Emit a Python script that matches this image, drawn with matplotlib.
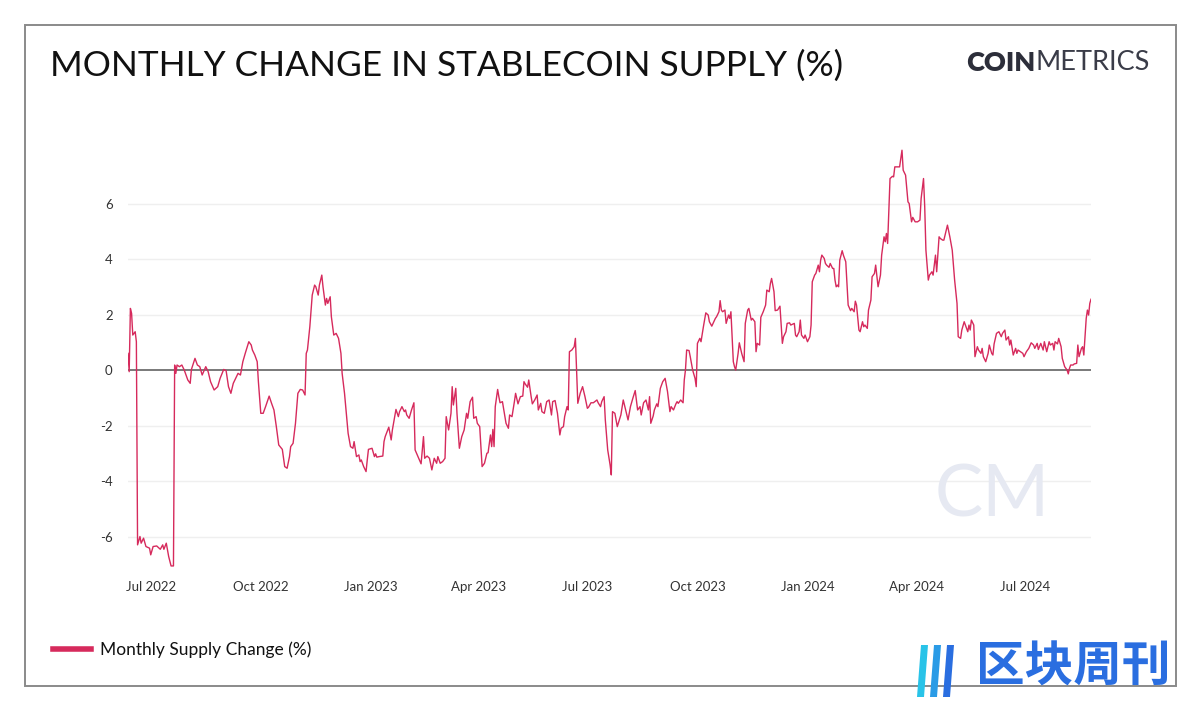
import matplotlib
matplotlib.use("Agg")
import matplotlib.pyplot as plt
from matplotlib.lines import Line2D
from matplotlib.patches import Rectangle, Polygon
import pandas as pd

# ---------------- data ----------------
dates_2022 = ["06-12","06-13","06-14","06-15","06-16","06-18","06-19","06-20","06-22","06-23","06-25","06-27","06-30",
              "07-01","07-03","07-06","07-09","07-11","07-12","07-14","07-16","07-18","07-20","07-21","07-22","07-23","07-25","07-27","07-29",
              "08-01","08-03","08-04","08-07","08-09","08-11","08-13","08-16","08-18","08-20","08-23","08-26","08-28","08-31",
              "09-02","09-04","09-06","09-08","09-10","09-12","09-14","09-16","09-18","09-21","09-23","09-24","09-26","09-28","09-29",
              "10-01","10-03","10-05","10-08","10-10","10-12","10-14","10-16","10-19","10-21","10-23","10-25","10-26","10-28","10-30",
              "11-01","11-03","11-05","11-07","11-08","11-09","11-11","11-13","11-15","11-16","11-18","11-19","11-21","11-22","11-24","11-25","11-26","11-28","11-29",
              "12-01","12-03","12-05","12-07","12-08","12-10","12-11","12-13","12-15","12-17","12-18","12-20","12-22","12-23","12-24","12-26","12-28","12-29","12-30"]
vals_2022 = [0.60,-0.06,2.22,2.04,1.26,1.38,1.02,-6.30,-6.00,-6.24,-6.06,-6.36,-6.42,
             -6.66,-6.36,-6.34,-6.46,-6.30,-6.46,-6.24,-6.72,-7.06,-7.06,0.18,-0.12,0.18,0.12,0.18,0.00,
             -0.36,-0.48,0.02,0.42,0.18,0.12,-0.18,0.12,-0.06,-0.42,-0.72,-0.60,-0.30,0.02,
             -0.02,-0.60,-0.84,-0.48,-0.30,-0.12,-0.18,0.30,0.60,1.02,0.90,0.72,0.54,0.30,-0.42,
             -1.56,-1.56,-1.32,-0.94,-1.20,-1.44,-2.04,-2.70,-2.86,-3.48,-3.54,-3.12,-2.76,-2.64,-1.92,
             -0.84,-0.70,-0.72,-0.90,0.60,0.72,1.56,2.70,3.06,3.00,2.70,3.06,3.42,3.00,2.34,2.58,2.40,2.64,1.92,
             1.26,1.32,1.14,0.60,-0.12,-0.84,-1.32,-2.28,-2.76,-2.82,-2.58,-3.12,-3.06,-3.30,-3.24,-3.48,-3.66,-3.24,-2.86]

dates_2023 = ["01-02","01-04","01-05","01-06","01-08","01-11","01-12","01-13","01-16","01-18","01-19","01-22","01-24","01-25","01-27","01-29","01-30","01-31",
              "02-02","02-04","02-06","02-07","02-10","02-12","02-14","02-15","02-17","02-19","02-21","02-23","02-25","02-26","02-28",
              "03-02","03-04","03-05","03-07","03-09","03-10","03-11","03-13","03-14","03-16","03-18","03-20","03-22","03-23","03-25","03-27","03-28","03-30","03-31",
              "04-02","04-04","04-06","04-08","04-09","04-11","04-12","04-13","04-14","04-15","04-17","04-18","04-19","04-21","04-24","04-26","04-27","04-29",
              "05-01","05-02","05-04","05-06","05-08","05-09","05-10","05-12","05-13","05-15","05-16","05-18","05-20","05-21","05-23","05-24","05-26","05-28","05-30",
              "06-01","06-02","06-04","06-06","06-08","06-09","06-11","06-12","06-14","06-15","06-16","06-18","06-20","06-21","06-23","06-25","06-27","06-29",
              "07-01","07-02","07-04","07-06","07-09","07-10","07-12","07-13","07-15","07-16","07-18","07-20","07-21","07-22","07-24","07-26","07-29","07-31",
              "08-02","08-04","08-06","08-08","08-10","08-12","08-14","08-15","08-17","08-19","08-21","08-22","08-23","08-25","08-26","08-28","08-29","08-31",
              "09-02","09-04","09-06","09-08","09-09","09-11","09-13","09-14","09-15","09-17","09-19","09-20","09-21","09-22","09-24","09-25","09-27","09-29","09-30",
              "10-01","10-03","10-04","10-06","10-08","10-10","10-11","10-13","10-16","10-17","10-19","10-20","10-21","10-22","10-24","10-25","10-27","10-28","10-29","10-31",
              "11-01","11-02","11-04","11-05","11-07","11-09","11-10","11-12","11-13","11-15","11-16","11-18","11-19","11-20","11-22","11-23","11-25","11-27","11-28","11-30",
              "12-01","12-02","12-04","12-05","12-07","12-09","12-11","12-12","12-14","12-15","12-17","12-18","12-21","12-22","12-23","12-25","12-26","12-27","12-29","12-30"]
vals_2023 = [-2.82,-3.12,-3.02,-3.14,-3.12,-3.10,-2.58,-2.40,-2.06,-2.52,-2.16,-1.42,-1.68,-1.50,-1.32,-1.50,-1.44,-1.62,
             -1.74,-1.44,-1.18,-2.88,-3.18,-3.38,-2.40,-3.18,-3.10,-3.18,-3.60,-3.18,-3.36,-3.12,-3.36,
             -3.30,-3.18,-1.68,-2.16,-1.56,-0.60,-1.26,-0.66,-1.56,-2.82,-2.40,-2.16,-1.56,-1.74,-1.14,-0.98,-1.74,-1.68,-1.92,
             -2.04,-3.48,-3.36,-3.00,-2.98,-2.34,-2.76,-2.14,-2.76,-1.32,-0.70,-0.96,-1.18,-1.14,-1.92,-2.10,-1.62,-1.68,
             -1.14,-0.84,-1.22,-0.96,-0.94,-0.42,-0.50,-0.62,-0.36,-0.96,-1.22,-1.08,-0.90,-1.44,-1.20,-1.50,-1.56,-1.14,-1.08,
             -1.62,-1.14,-1.10,-1.56,-2.34,-2.10,-2.04,-1.68,-1.32,-1.44,0.66,0.72,0.84,1.14,-1.20,-0.84,-0.60,-0.96,
             -1.38,-1.34,-1.18,-1.18,-1.08,-1.18,-1.32,-1.14,-0.96,-1.80,-2.88,-3.42,-3.78,-1.50,-1.56,-2.04,-1.62,-1.08,
             -1.44,-1.80,-1.32,-1.02,-0.74,-1.44,-1.32,-1.62,-1.18,-1.08,-1.44,-0.96,-1.92,-1.66,-1.44,-1.22,-1.32,-0.66,
             -0.42,-0.30,-0.78,-1.50,-1.32,-1.44,-1.22,-1.14,-1.20,-1.08,-1.18,-0.36,0.00,0.72,0.70,0.48,0.00,-0.30,-0.60,
             0.96,1.14,1.02,1.56,2.06,1.98,1.74,1.58,1.86,1.92,2.10,2.50,2.16,2.10,2.16,1.68,1.98,1.86,2.10,0.30,
             0.12,0.00,0.60,0.98,0.60,0.30,1.68,2.16,2.22,1.80,1.86,1.74,0.66,0.96,0.90,1.90,2.10,2.34,2.88,2.82,
             3.12,3.30,2.82,2.14,2.16,2.30,0.96,1.20,1.38,1.68,1.70,1.62,1.68,1.26,1.20,1.38,1.80,1.26,1.14,1.26]

dates_2024 = ["01-01","01-03","01-04","01-05","01-07","01-08","01-10","01-11","01-12","01-13","01-15","01-16","01-17","01-19","01-20","01-22","01-23","01-24","01-25","01-26","01-27","01-28","01-30","01-31",
              "02-02","02-03","02-04","02-06","02-07","02-09","02-10","02-11","02-13","02-14","02-16","02-17","02-18","02-20","02-21","02-23","02-24","02-26","02-27","02-29",
              "03-02","03-03","03-05","03-06","03-07","03-08","03-10","03-12","03-13","03-14","03-16","03-18","03-19","03-20","03-21","03-23","03-25","03-26","03-28","03-29","03-31",
              "04-02","04-04","04-05","04-07","04-08","04-09","04-11","04-12","04-14","04-15","04-17","04-18","04-20","04-21","04-23","04-24","04-27","04-29",
              "05-01","05-03","05-05","05-06","05-08","05-09","05-11","05-12","05-14","05-15","05-16","05-17","05-19","05-20","05-22","05-23","05-25","05-26","05-27","05-29","05-31",
              "06-01","06-03","06-04","06-05","06-07","06-09","06-11","06-12","06-14","06-15","06-17","06-18","06-19","06-21","06-23","06-24","06-25","06-27","06-29","06-30",
              "07-02","07-04","07-06","07-08","07-09","07-11","07-12","07-14","07-16","07-17","07-19","07-21","07-22","07-24","07-25","07-26","07-28","07-29","07-31",
              "08-01","08-03","08-05","08-06","08-07","08-08","08-10","08-11","08-13","08-14","08-15","08-17","08-18","08-19","08-21","08-22","08-23","08-24","08-25"]
vals_2024 = [1.02,1.20,1.62,3.18,3.42,3.48,3.78,3.54,3.96,4.14,4.02,3.84,3.78,3.70,3.84,3.66,3.66,3.24,3.00,3.06,3.00,3.96,4.30,4.14,
             3.90,3.12,2.34,2.14,2.22,2.10,2.48,2.34,1.44,1.38,1.74,1.56,1.62,1.50,2.16,2.52,3.36,3.48,3.78,3.00,
             3.42,4.14,4.80,4.62,4.92,4.56,6.90,6.98,6.96,7.32,7.32,7.32,7.62,7.92,7.20,7.02,6.06,6.00,5.34,5.50,5.34,
             5.34,5.40,6.18,6.90,5.88,4.32,3.24,3.42,3.54,3.42,4.14,3.54,4.80,4.74,4.68,4.68,5.22,4.80,
             4.32,3.24,2.40,1.20,1.14,1.44,1.74,1.62,1.38,1.62,1.44,1.80,1.62,0.48,0.84,0.72,0.60,0.78,0.48,0.30,0.60,
             0.90,0.60,0.54,0.94,1.32,1.38,1.20,1.32,1.44,1.08,1.20,0.90,1.08,0.54,0.78,0.60,0.72,0.66,0.60,0.48,
             0.66,0.78,0.98,0.90,0.78,0.96,0.74,0.96,0.72,1.02,0.66,1.02,0.90,0.96,0.72,1.02,0.94,1.14,0.84,
             0.42,0.12,0.00,-0.14,0.06,0.18,0.18,0.22,0.24,0.90,0.48,0.78,0.84,0.54,1.86,2.16,1.98,2.40,2.55]

x_tick_labels = ["Jul 2022", "Oct 2022", "Jan 2023", "Apr 2023", "Jul 2023", "Oct 2023", "Jan 2024", "Apr 2024", "Jul 2024"]
y_ticks = [-6, -4, -2, 0, 2, 4, 6]
title = "MONTHLY CHANGE IN STABLECOIN SUPPLY (%)"
series_name = "Monthly Supply Change (%)"

# ---------------- build series ----------------
dates = pd.to_datetime(["2022-" + d for d in dates_2022] +
                       ["2023-" + d for d in dates_2023] +
                       ["2024-" + d for d in dates_2024])
values = vals_2022 + vals_2023 + vals_2024

LINE_COLOR = "#d62a5c"
plt.rcParams["axes.unicode_minus"] = False
plt.rcParams["font.family"] = ["Lato", "DejaVu Sans"]

W, H = 1200, 710
fig = plt.figure(figsize=(W / 100, H / 100), dpi=100)
fig.patch.set_facecolor("white")

# outer frame
fig.patches.append(Rectangle((25 / W, 1 - 686 / H), (1176 - 25) / W, (686 - 25) / H,
                             transform=fig.transFigure, fill=False, edgecolor="#8a8a8a", lw=1.4))

ax = fig.add_axes([128 / W, 1 - 572.6 / H, (1091 - 128) / W, (572.6 - 148) / H])
ax.set_facecolor("none")

# CM watermark (behind)
fig.text(992 / W, 1 - 496 / H, "CM", fontsize=52, color="#e6e9f2", fontweight="normal",
         ha="center", va="center", family=["Lato", "DejaVu Sans"], zorder=0)

for yt in y_ticks:
    if yt != 0:
        ax.axhline(yt, color="#efefef", lw=1.0, zorder=1)
ax.axhline(0, color="#6e6e6e", lw=1.3, zorder=2)

ax.plot(dates, values, color=LINE_COLOR, lw=1.0, zorder=3)

ax.set_xlim(pd.Timestamp("2022-06-12"), pd.Timestamp("2024-08-25"))
ax.set_ylim(-7.3, 8.0)
ax.set_yticks(y_ticks)
ax.set_yticklabels([str(v) for v in y_ticks])
ax.set_xticks(pd.to_datetime(x_tick_labels, format="%b %Y"))
ax.set_xticklabels(x_tick_labels)
ax.tick_params(axis="both", length=0, labelsize=9.5, colors="#333333")
ax.tick_params(axis="y", pad=11)
ax.tick_params(axis="x", pad=6)
for s in ax.spines.values():
    s.set_visible(False)

# title and logo
fig.text(50 / W, 1 - 66 / H, title, fontsize=25.4, color="#111111", ha="left", va="center",
         family=["Lato", "DejaVu Sans"])
t1 = fig.text(966 / W, 1 - 63 / H, "COIN", fontsize=19.5, fontweight="heavy", color="#2c2e3a",
              ha="left", va="center", family=["Lato", "DejaVu Sans"])
fig.canvas.draw()
bb = t1.get_window_extent()
fig.text(bb.x1 / W + 0.0005, 1 - 63 / H, "METRICS", fontsize=19.5, fontweight="normal", color="#3a3c48",
         ha="left", va="center", family=["Lato", "DejaVu Sans"])

# legend
handle = Line2D([], [], color=LINE_COLOR, lw=4)
fig.legend(handles=[handle], labels=[series_name], loc="center left",
           bbox_to_anchor=(37 / W, 1 - 650 / H), frameon=False, fontsize=12.5,
           handlelength=2.2, handletextpad=0.55, labelcolor="#111111")

# third-party watermark at bottom right
fig.text(1073 / W, 1 - 667 / H, "区块周刊", fontsize=35, fontweight="bold", color="#2a6ee0",
         ha="center", va="center", family=["Noto Sans CJK SC", "DejaVu Sans"], zorder=5)
for (x0, c) in [(917, "#29c3e8"), (930, "#2a9be6"), (943, "#2a6ee0")]:
    fig.patches.append(Polygon([((x0) / W, 1 - 697 / H), ((x0 + 7) / W, 1 - 697 / H),
                                ((x0 + 11) / W, 1 - 645 / H), ((x0 + 4) / W, 1 - 645 / H)],
                               closed=True, transform=fig.transFigure, facecolor=c, edgecolor="none", zorder=5))

fig.savefig("out.png", dpi=100, facecolor="white")
